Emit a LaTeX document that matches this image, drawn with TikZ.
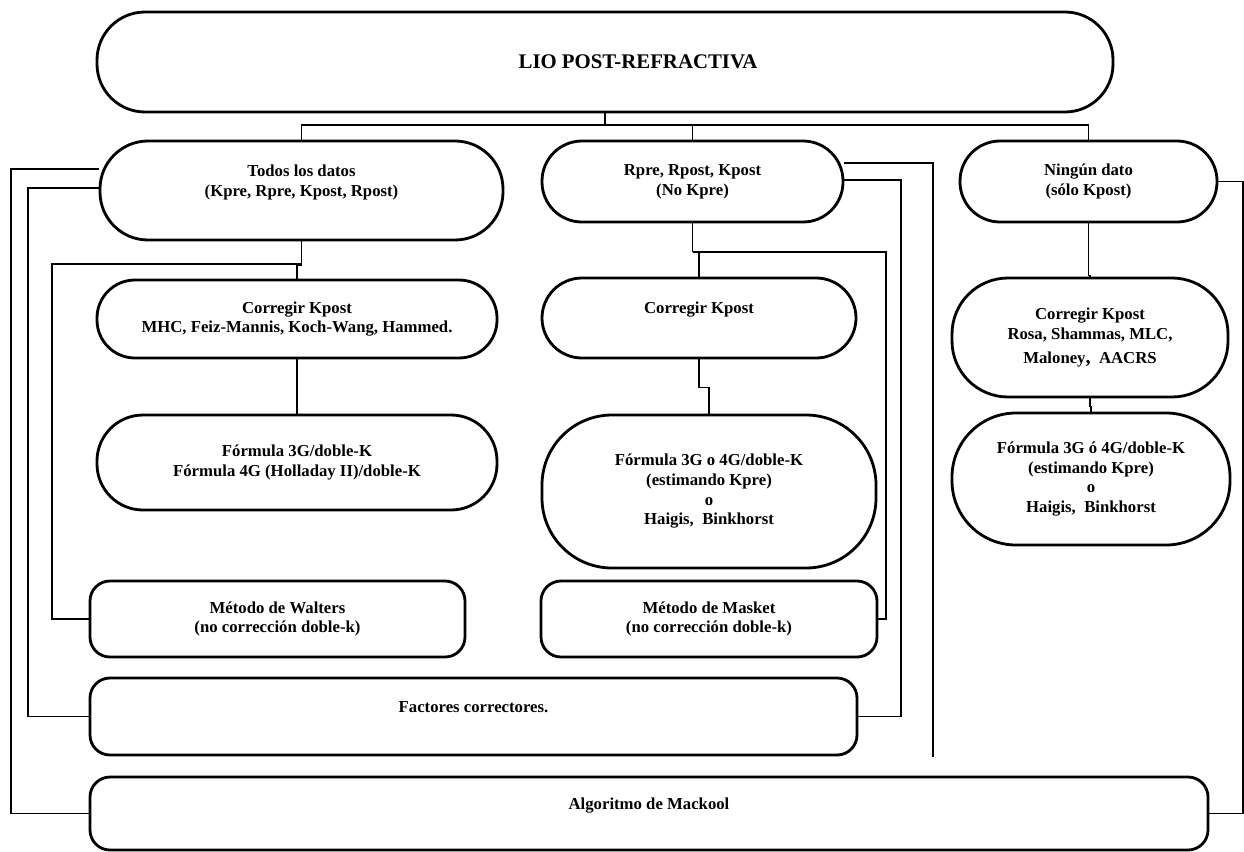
\documentclass[tikz,border=0pt]{standalone}
\usepackage{fontspec}
\setmainfont{Liberation Serif}
\begin{document}
\begin{tikzpicture}
\tikzstyle{box} = [draw,line width=2pt,align=center,inner sep=2pt,font=\bfseries\fontsize{11.9}{14}\selectfont];
\tikzstyle{link} = [line width=0.8pt];

\useasboundingbox (0,0) rectangle (31.1,-21.275);

\node [box,rounded corners=1.2cm,minimum width=25.4cm,minimum height=2.5cm,font=\bfseries\fontsize{14.8}{17}\selectfont] (v1) at (15.125,-1.55) {\hspace*{1.65cm}LIO POST-REFRACTIVA};

\node [box,rounded corners=1.2cm,minimum width=10.075cm,minimum height=2.475cm] (v2) at (7.5375,-4.7625) {Todos los datos\\(Kpre, Rpre, Kpost, Rpost)\\\mbox{}};
\node [box,rounded corners=1cm,minimum width=7.525cm,minimum height=2.025cm] (v3) at (17.3125,-4.5375) {Rpre, Rpost, Kpost\\(No Kpre)};
\node [box,rounded corners=1cm,minimum width=6.425cm,minimum height=2.025cm] (v4) at (27.2125,-4.5375) {Ningún dato\\(sólo Kpost)};

\node [box,rounded corners=0.95cm,minimum width=10cm,minimum height=1.95cm] (v5) at (7.425,-7.975) {Corregir Kpost\\MHC, Feiz-Mannis, Koch-Wang, Hammed.};
\node [box,rounded corners=1.15cm,minimum width=10cm,minimum height=2.375cm] (v6) at (7.425,-11.5625) {Fórmula 3G/doble-K\\Fórmula 4G (Holladay II)/doble-K};
\node [box,rounded corners=0.5cm,minimum width=9.375cm,minimum height=1.9cm] (v7) at (6.9375,-15.475) {Método de Walters\\(no corrección doble-k)};

\node [box,rounded corners=1cm,minimum width=7.85cm,minimum height=2cm] (v8) at (17.475,-7.95) {Corregir Kpost\\\mbox{}};
\node [box,rounded corners=1.75cm,minimum width=8.35cm,minimum height=3.825cm] (v9) at (17.725,-12.2875) {Fórmula 3G o 4G/doble-K\\(estimando Kpre)\\o\\Haigis,~ Binkhorst};
\node [box,rounded corners=0.5cm,minimum width=8.4cm,minimum height=1.9cm] (v10) at (17.725,-15.475) {Método de Masket\\(no corrección doble-k)};

\node [box,rounded corners=1.4cm,minimum width=6.9cm,minimum height=2.975cm] (v11) at (27.25,-8.4375) {Corregir Kpost\\Rosa, Shammas, MLC,\\[3pt]Maloney{\fontsize{14.5}{14}\selectfont,}~ AACRS};
\node [box,rounded corners=1.6cm,minimum width=6.95cm,minimum height=3.3cm] (v12) at (27.275,-11.975) {Fórmula 3G ó 4G/doble-K\\(estimando Kpre)\\o\\Haigis,~ Binkhorst};

\node [box,rounded corners=0.5cm,minimum width=19.175cm,minimum height=1.925cm] (v13) at (11.8375,-17.9125) {Factores correctores.\\\mbox{}};
\node [box,rounded corners=0.5cm,minimum width=27.95cm,minimum height=1.825cm] (v14) at (16.225,-20.3375) {Algoritmo de Mackool\\\mbox{}};

% first level
\draw [link] (v1.south) -- (v1.south |- 0,-3.125);
\draw [link] (v2.north) -- (v2.north |- 0,-3.125) -- (v4.north |- 0,-3.125) -- (v4.north);
\draw [link] (v3.north) -- (v3.north |- 0,-3.125);

% todos los datos
\draw [link] (v2.south) -- ++(0,-0.6) -| (v5.north);
\draw [link] (v5) -- (v6);
\draw [link] (v7.west) -| (1.3,-6.6) -- (v2.south |- 0,-6.6);
\draw [link] (v13.west) -| (0.7,-4.7) -- (v2.west |- 0,-4.7);
\draw [link] (v14.west) -| (0.275,-4.225) -- (v2.west |- 0,-4.225);

% rpre, rpost, kpost
\draw [link] (v3.south) -- ++(0,-0.7) -| (v8.north);
\draw [link] (v8.south) -- ++(0,-0.7) -| (v9.north);
\draw [link] (v10.east) -| (22.15,-6.3) -- (v3.south |- 0,-6.3);
\draw [link] (v13.east) -| (22.525,-4.5) -- (v3.east |- 0,-4.5);
\coordinate (e1) at (23.325,-18.925);
\draw [link] (v3.east |- 0,-4.075) -| (e1);

% ningun dato
\draw [link] (v4.south) -- ++(0,-1.3) -| (v11.north);
\draw [link] (v11.south) -- ++(0,-0.2) -| (v12.north);
\draw [link] (v4.east) -- (v4.east -| 31.075,0) |- (v14.east);
\end{tikzpicture}
\end{document}
